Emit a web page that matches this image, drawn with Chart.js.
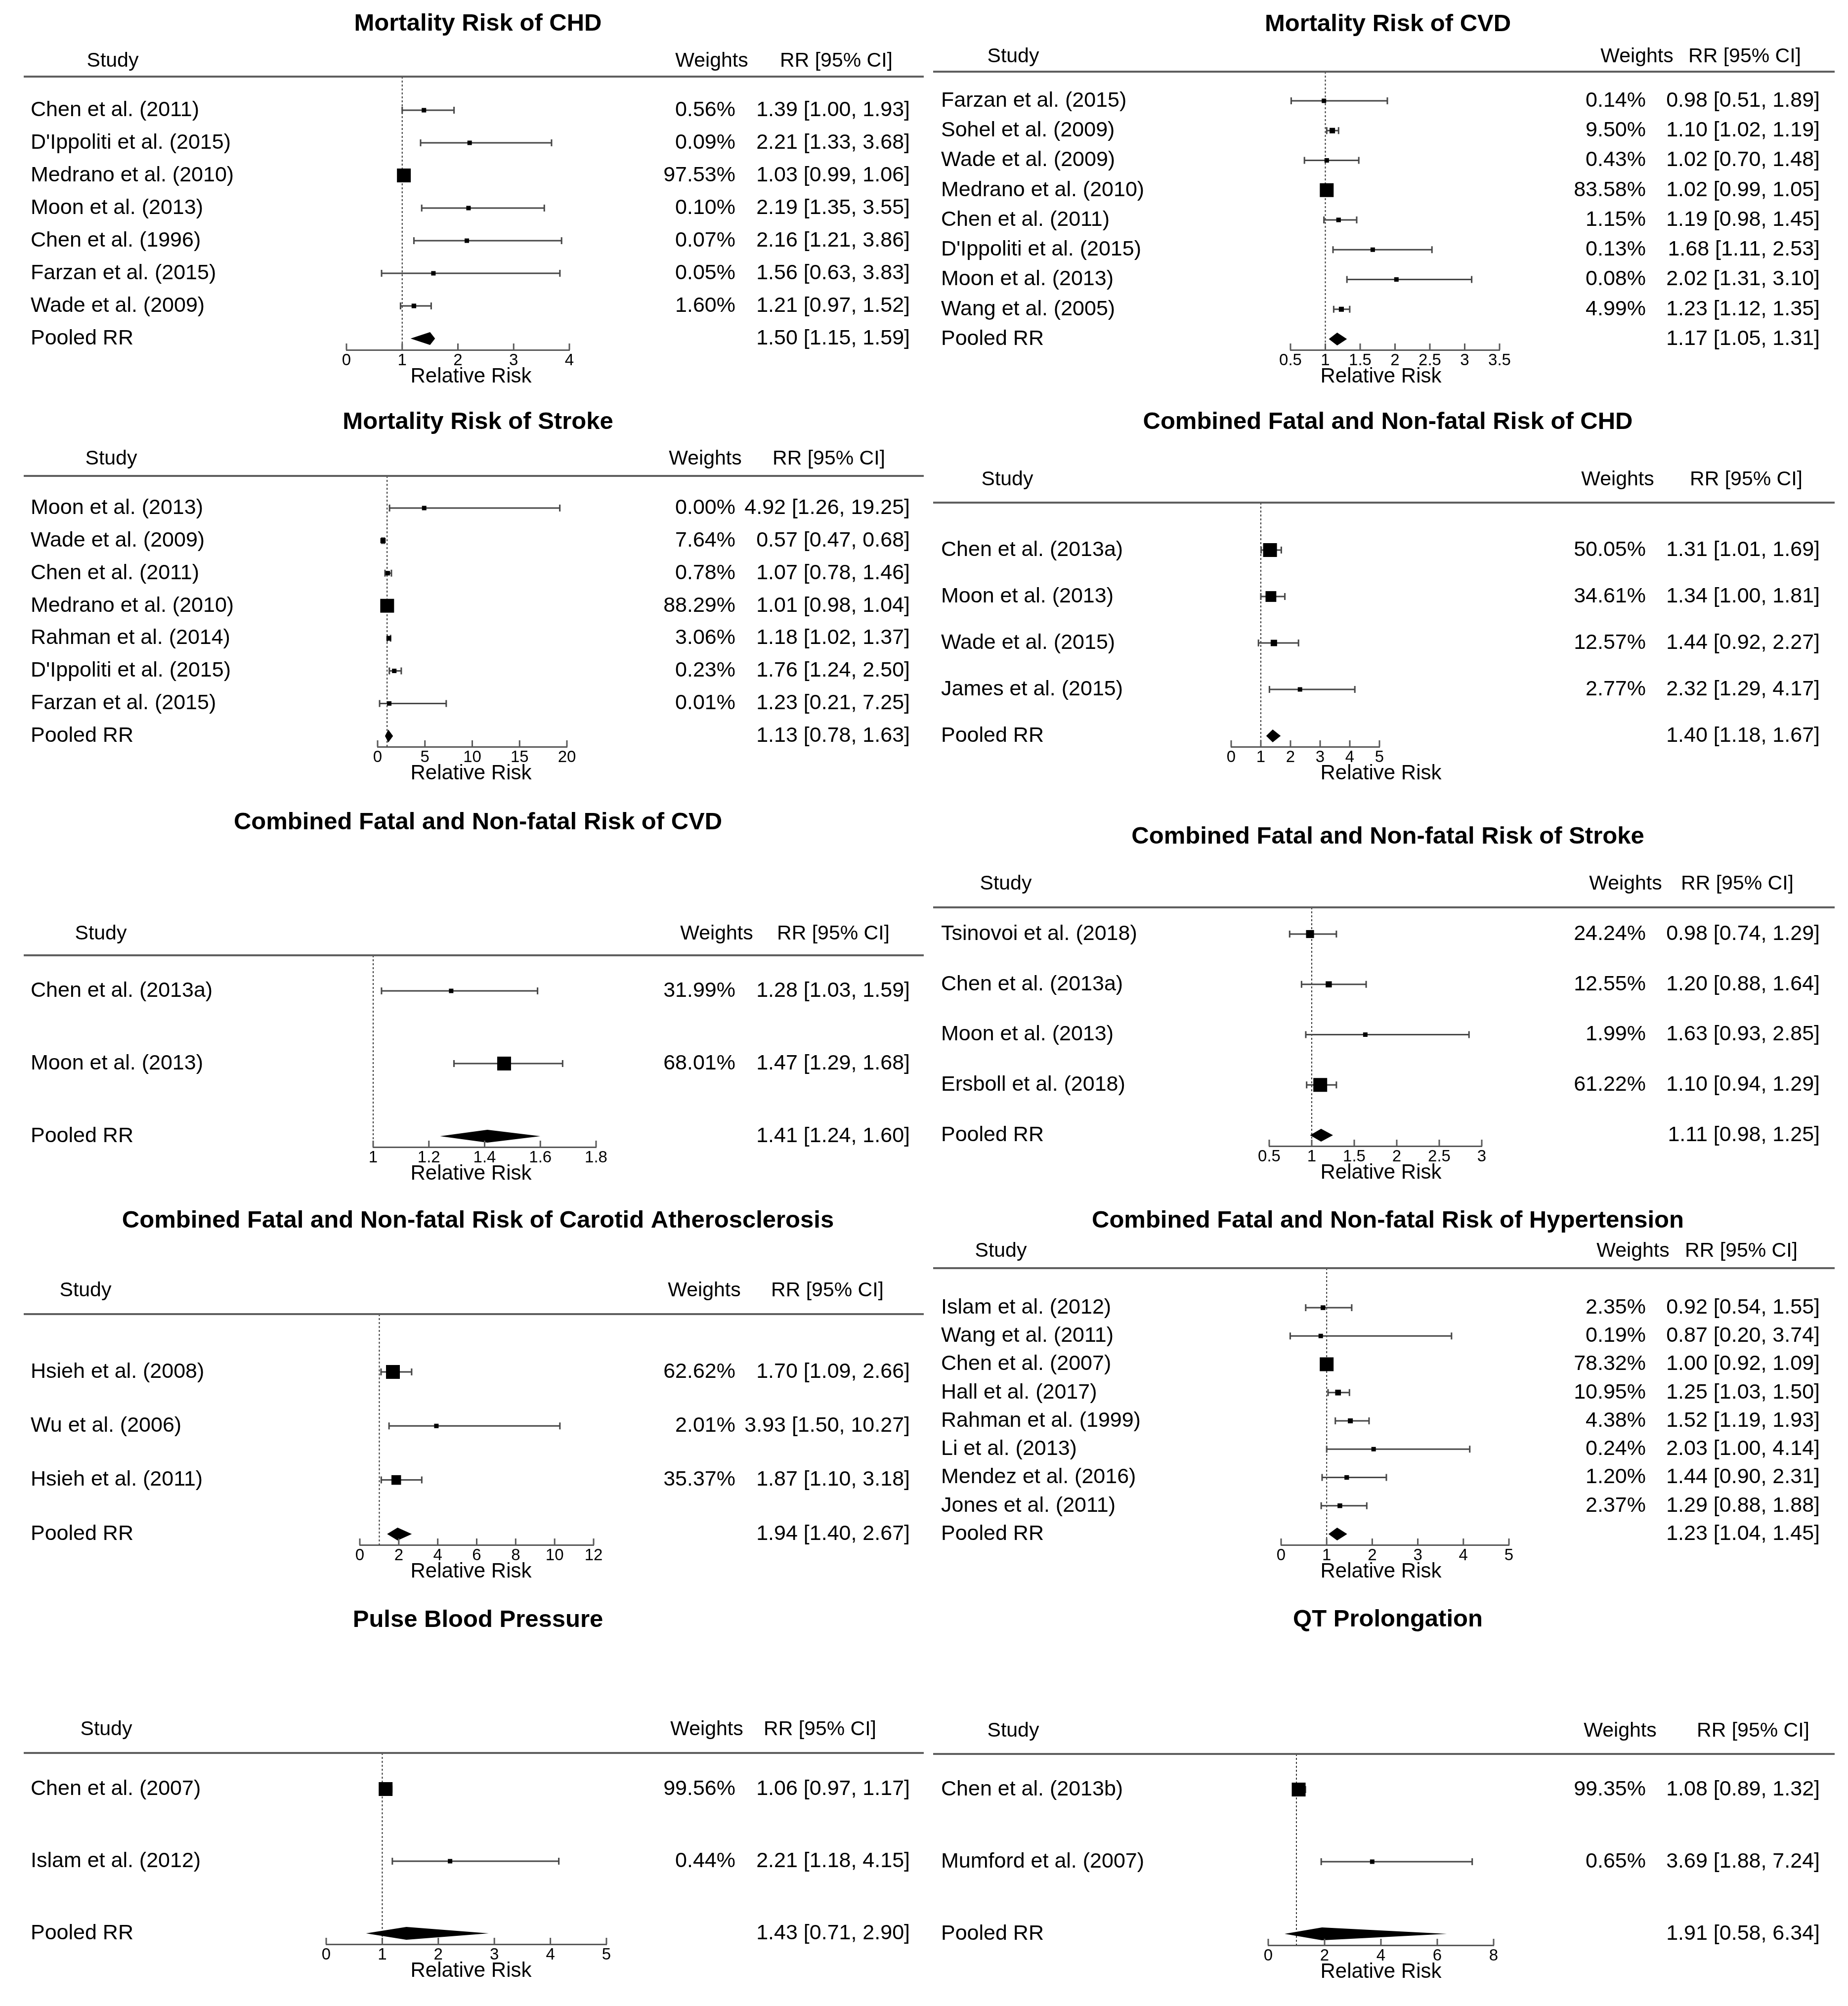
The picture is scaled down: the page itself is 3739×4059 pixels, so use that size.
<!DOCTYPE html>
<html>
<head>
<meta charset="utf-8">
<script src="https://cdn.jsdelivr.net/npm/chart.js@4.4.1/dist/chart.umd.min.js"></script>
<style>
html, body { margin: 0; padding: 0; background: #fff; }
body { width: 3739px; height: 4059px; position: relative; overflow: hidden; }
.panel { position: absolute; }
</style>
</head>
<body>
<script>
// Mortality Risk of CHD
const chdDeathStudies = ['Chen et al. (2011)', "D'Ippoliti et al. (2015)", 'Medrano et al. (2010)', 'Moon et al. (2013)', 'Chen et al. (1996)', 'Farzan et al. (2015)', 'Wade et al. (2009)'];
const chdDeathWeights = [0.56, 0.09, 97.53, 0.10, 0.07, 0.05, 1.60];
const chdDeathRR = [1.39, 2.21, 1.03, 2.19, 2.16, 1.56, 1.21];
const chdDeathLow = [1.00, 1.33, 0.99, 1.35, 1.21, 0.63, 0.97];
const chdDeathHigh = [1.93, 3.68, 1.06, 3.55, 3.86, 3.83, 1.52];
const chdDeathPooled = [1.50, 1.15, 1.59];
const chdDeathTicks = [0, 1, 2, 3, 4];

// Mortality Risk of CVD
const cvdDeathStudies = ['Farzan et al. (2015)', 'Sohel et al. (2009)', 'Wade et al. (2009)', 'Medrano et al. (2010)', 'Chen et al. (2011)', "D'Ippoliti et al. (2015)", 'Moon et al. (2013)', 'Wang et al. (2005)'];
const cvdDeathWeights = [0.14, 9.50, 0.43, 83.58, 1.15, 0.13, 0.08, 4.99];
const cvdDeathRR = [0.98, 1.10, 1.02, 1.02, 1.19, 1.68, 2.02, 1.23];
const cvdDeathLow = [0.51, 1.02, 0.70, 0.99, 0.98, 1.11, 1.31, 1.12];
const cvdDeathHigh = [1.89, 1.19, 1.48, 1.05, 1.45, 2.53, 3.10, 1.35];
const cvdDeathPooled = [1.17, 1.05, 1.31];
const cvdDeathTicks = [0.5, 1, 1.5, 2, 2.5, 3, 3.5];

// Mortality Risk of Stroke
const strokeDeathStudies = ['Moon et al. (2013)', 'Wade et al. (2009)', 'Chen et al. (2011)', 'Medrano et al. (2010)', 'Rahman et al. (2014)', "D'Ippoliti et al. (2015)", 'Farzan et al. (2015)'];
const strokeDeathWeights = [0.00, 7.64, 0.78, 88.29, 3.06, 0.23, 0.01];
const strokeDeathRR = [4.92, 0.57, 1.07, 1.01, 1.18, 1.76, 1.23];
const strokeDeathLow = [1.26, 0.47, 0.78, 0.98, 1.02, 1.24, 0.21];
const strokeDeathHigh = [19.25, 0.68, 1.46, 1.04, 1.37, 2.50, 7.25];
const strokeDeathPooled = [1.13, 0.78, 1.63];
const strokeDeathTicks = [0, 5, 10, 15, 20];

// Combined Fatal and Non-fatal Risk of CHD
const chdAllStudies = ['Chen et al. (2013a)', 'Moon et al. (2013)', 'Wade et al. (2015)', 'James et al. (2015)'];
const chdAllWeights = [50.05, 34.61, 12.57, 2.77];
const chdAllRR = [1.31, 1.34, 1.44, 2.32];
const chdAllLow = [1.01, 1.00, 0.92, 1.29];
const chdAllHigh = [1.69, 1.81, 2.27, 4.17];
const chdAllPooled = [1.40, 1.18, 1.67];
const chdAllTicks = [0, 1, 2, 3, 4, 5];

// Combined Fatal and Non-fatal Risk of CVD
const cvdAllStudies = ['Chen et al. (2013a)', 'Moon et al. (2013)'];
const cvdAllWeights = [31.99, 68.01];
const cvdAllRR = [1.28, 1.47];
const cvdAllLow = [1.03, 1.29];
const cvdAllHigh = [1.59, 1.68];
const cvdAllPooled = [1.41, 1.24, 1.60];
const cvdAllTicks = [1, 1.2, 1.4, 1.6, 1.8];

// Combined Fatal and Non-fatal Risk of Stroke
const strokeAllStudies = ['Tsinovoi et al. (2018)', 'Chen et al. (2013a)', 'Moon et al. (2013)', 'Ersboll et al. (2018)'];
const strokeAllWeights = [24.24, 12.55, 1.99, 61.22];
const strokeAllRR = [0.98, 1.20, 1.63, 1.10];
const strokeAllLow = [0.74, 0.88, 0.93, 0.94];
const strokeAllHigh = [1.29, 1.64, 2.85, 1.29];
const strokeAllPooled = [1.11, 0.98, 1.25];
const strokeAllTicks = [0.5, 1, 1.5, 2, 2.5, 3];

// Combined Fatal and Non-fatal Risk of Carotid Atherosclerosis
const carotidStudies = ['Hsieh et al. (2008)', 'Wu et al. (2006)', 'Hsieh et al. (2011)'];
const carotidWeights = [62.62, 2.01, 35.37];
const carotidRR = [1.70, 3.93, 1.87];
const carotidLow = [1.09, 1.50, 1.10];
const carotidHigh = [2.66, 10.27, 3.18];
const carotidPooled = [1.94, 1.40, 2.67];
const carotidTicks = [0, 2, 4, 6, 8, 10, 12];

// Combined Fatal and Non-fatal Risk of Hypertension
const htnStudies = ['Islam et al. (2012)', 'Wang et al. (2011)', 'Chen et al. (2007)', 'Hall et al. (2017)', 'Rahman et al. (1999)', 'Li et al. (2013)', 'Mendez et al. (2016)', 'Jones et al. (2011)'];
const htnWeights = [2.35, 0.19, 78.32, 10.95, 4.38, 0.24, 1.20, 2.37];
const htnRR = [0.92, 0.87, 1.00, 1.25, 1.52, 2.03, 1.44, 1.29];
const htnLow = [0.54, 0.20, 0.92, 1.03, 1.19, 1.00, 0.90, 0.88];
const htnHigh = [1.55, 3.74, 1.09, 1.50, 1.93, 4.14, 2.31, 1.88];
const htnPooled = [1.23, 1.04, 1.45];
const htnTicks = [0, 1, 2, 3, 4, 5];

// Pulse Blood Pressure
const pulseStudies = ['Chen et al. (2007)', 'Islam et al. (2012)'];
const pulseWeights = [99.56, 0.44];
const pulseRR = [1.06, 2.21];
const pulseLow = [0.97, 1.18];
const pulseHigh = [1.17, 4.15];
const pulsePooled = [1.43, 0.71, 2.90];
const pulseTicks = [0, 1, 2, 3, 4, 5];

// QT Prolongation
const qtStudies = ['Chen et al. (2013b)', 'Mumford et al. (2007)'];
const qtWeights = [99.35, 0.65];
const qtRR = [1.08, 3.69];
const qtLow = [0.89, 1.88];
const qtHigh = [1.32, 7.24];
const qtPooled = [1.91, 0.58, 6.34];
const qtTicks = [0, 2, 4, 6, 8];

Chart.defaults.font.family = '"Liberation Sans", Arial, sans-serif';
Chart.defaults.color = '#000';

const FONT = '"Liberation Sans", Arial, sans-serif';
const AXIS_GREY = '#595959';
const LINE_GREY = '#474747';
const RULE_GREY = '#5f5f5f';
const X_SCALE_H = 60;

// column geometry (panel-local pixels)
const LEFT_COL = { names: 62, weightsRight: 1488, rrRight: 1841, rule: [48, 1869], xLabel: 953 };
const RIGHT_COL = { names: 34, weightsRight: 1460, rrRight: 1812, rule: [18, 1842], xLabel: 924 };

const panels = [
  { title: 'Mortality Risk of CHD', studies: chdDeathStudies, weights: chdDeathWeights, rr: chdDeathRR, low: chdDeathLow, high: chdDeathHigh, pooled: chdDeathPooled, ticks: chdDeathTicks,
    col: LEFT_COL, box: [0, 0, 1872, 800], titleY: 48, headerY: 124, ruleY: 155, rowTop: 223, rowStep: 66, axisY: 708, axisX: [701, 1152], heads: [228, 1440, 1692] },
  { title: 'Mortality Risk of CVD', studies: cvdDeathStudies, weights: cvdDeathWeights, rr: cvdDeathRR, low: cvdDeathLow, high: cvdDeathHigh, pooled: cvdDeathPooled, ticks: cvdDeathTicks,
    col: RIGHT_COL, box: [1870, 0, 1842, 800], titleY: 49, headerY: 115, ruleY: 145, rowTop: 204, rowStep: 60.25, axisY: 708, axisX: [741, 1164], heads: [180, 1442, 1660] },
  { title: 'Mortality Risk of Stroke', studies: strokeDeathStudies, weights: strokeDeathWeights, rr: strokeDeathRR, low: strokeDeathLow, high: strokeDeathHigh, pooled: strokeDeathPooled, ticks: strokeDeathTicks,
    col: LEFT_COL, box: [0, 800, 1872, 810], titleY: 54, headerY: 129, ruleY: 163, rowTop: 228, rowStep: 65.9, axisY: 711, axisX: [764, 1147], heads: [225, 1427, 1677] },
  { title: 'Combined Fatal and Non-fatal Risk of CHD', studies: chdAllStudies, weights: chdAllWeights, rr: chdAllRR, low: chdAllLow, high: chdAllHigh, pooled: chdAllPooled, ticks: chdAllTicks,
    col: RIGHT_COL, box: [1870, 800, 1842, 810], titleY: 54, headerY: 171, ruleY: 217, rowTop: 313, rowStep: 94, axisY: 711, axisX: [621, 921], heads: [168, 1403, 1663] },
  { title: 'Combined Fatal and Non-fatal Risk of CVD', studies: cvdAllStudies, weights: cvdAllWeights, rr: cvdAllRR, low: cvdAllLow, high: cvdAllHigh, pooled: cvdAllPooled, ticks: cvdAllTicks,
    col: LEFT_COL, box: [0, 1610, 1872, 810], titleY: 54, headerY: 280, ruleY: 323, rowTop: 395, rowStep: 147, axisY: 711, axisX: [755, 1206], heads: [204, 1450, 1686] },
  { title: 'Combined Fatal and Non-fatal Risk of Stroke', studies: strokeAllStudies, weights: strokeAllWeights, rr: strokeAllRR, low: strokeAllLow, high: strokeAllHigh, pooled: strokeAllPooled, ticks: strokeAllTicks,
    col: RIGHT_COL, box: [1870, 1610, 1842, 810], titleY: 83, headerY: 179, ruleY: 226, rowTop: 280, rowStep: 101.75, axisY: 709, axisX: [698, 1128], heads: [165, 1419, 1645] },
  { title: 'Combined Fatal and Non-fatal Risk of Carotid Atherosclerosis', studies: carotidStudies, weights: carotidWeights, rr: carotidRR, low: carotidLow, high: carotidHigh, pooled: carotidPooled, ticks: carotidTicks,
    col: LEFT_COL, box: [0, 2420, 1872, 805], titleY: 50, headerY: 192, ruleY: 239, rowTop: 356, rowStep: 109.3, axisY: 706, axisX: [728, 1201], heads: [173, 1425, 1674] },
  { title: 'Combined Fatal and Non-fatal Risk of Hypertension', studies: htnStudies, weights: htnWeights, rr: htnRR, low: htnLow, high: htnHigh, pooled: htnPooled, ticks: htnTicks,
    col: RIGHT_COL, box: [1870, 2420, 1842, 805], titleY: 50, headerY: 112, ruleY: 146, rowTop: 226, rowStep: 57.25, axisY: 706, axisX: [722, 1183], heads: [155, 1434, 1653] },
  { title: 'Pulse Blood Pressure', studies: pulseStudies, weights: pulseWeights, rr: pulseRR, low: pulseLow, high: pulseHigh, pooled: pulsePooled, ticks: pulseTicks,
    col: LEFT_COL, box: [0, 3225, 1872, 834], titleY: 53, headerY: 275, ruleY: 322, rowTop: 395, rowStep: 146, axisY: 709, axisX: [660, 1227], heads: [215, 1430, 1659] },
  { title: 'QT Prolongation', studies: qtStudies, weights: qtWeights, rr: qtRR, low: qtLow, high: qtHigh, pooled: qtPooled, ticks: qtTicks,
    col: RIGHT_COL, box: [1870, 3225, 1842, 834], titleY: 52, headerY: 278, ruleY: 324, rowTop: 396, rowStep: 146, axisY: 711, axisX: [696, 1152], heads: [180, 1408, 1677] }
];

function fmtCI(est, lo, hi) {
  return `${est.toFixed(2)} [${lo.toFixed(2)}, ${hi.toFixed(2)}]`;
}

// square side grows with the study weight
function boxSide(w, all) {
  const lo = Math.min(...all), hi = Math.max(...all);
  return 9 + 19 * (w - lo) / (hi - lo);
}

function buildPanel(p) {
  const [bx, by, bw, bh] = p.box;
  const col = p.col;

  const wrap = document.createElement('div');
  wrap.className = 'panel';
  wrap.style.left = bx + 'px';
  wrap.style.top = by + 'px';
  wrap.style.width = bw + 'px';
  wrap.style.height = bh + 'px';
  const canvas = document.createElement('canvas');
  canvas.width = bw;
  canvas.height = bh;
  wrap.appendChild(canvas);
  document.body.appendChild(wrap);

  const n = p.studies.length;
  const yMin = -(p.rowTop - p.ruleY) / p.rowStep;
  const yMax = yMin + (p.axisY - p.ruleY) / p.rowStep;

  const nameLabels = [...p.studies, 'Pooled RR'];
  const weightLabels = [...p.weights.map(w => w.toFixed(2) + '%'), ''];
  const rrLabels = [...p.rr.map((v, i) => fmtCI(v, p.low[i], p.high[i])), fmtCI(...p.pooled)];

  const rowAxis = (labels, position, width, weight) => ({
    type: 'linear',
    position: position,
    weight: weight,
    min: yMin,
    max: yMax,
    reverse: true,
    grid: { display: false, drawTicks: false },
    border: { display: false },
    ticks: {
      autoSkip: false,
      crossAlign: 'far',
      padding: 0,
      color: '#000',
      font: { size: 43 },
      callback: (value, index) => labels[index]
    },
    afterBuildTicks: scale => { scale.ticks = nameLabels.map((_, i) => ({ value: i })); },
    afterFit: scale => { scale.width = width; }
  });

  const forest = {
    id: 'forest',
    beforeDatasetsDraw(chart) {
      const ctx = chart.ctx;
      const xs = chart.scales.x, ys = chart.scales.y;
      const area = chart.chartArea;
      ctx.save();

      // reference line at RR = 1
      const x1 = xs.getPixelForValue(1);
      ctx.strokeStyle = '#333';
      ctx.lineWidth = 2;
      ctx.setLineDash([4, 4]);
      ctx.beginPath();
      ctx.moveTo(x1, area.top);
      ctx.lineTo(x1, area.bottom);
      ctx.stroke();
      ctx.setLineDash([]);

      // confidence intervals
      ctx.strokeStyle = LINE_GREY;
      ctx.lineWidth = 3;
      p.low.forEach((lo, i) => {
        const y = ys.getPixelForValue(i);
        const a = xs.getPixelForValue(lo), b = xs.getPixelForValue(p.high[i]);
        ctx.beginPath();
        ctx.moveTo(a, y); ctx.lineTo(b, y);
        ctx.moveTo(a, y - 7); ctx.lineTo(a, y + 7);
        ctx.moveTo(b, y - 7); ctx.lineTo(b, y + 7);
        ctx.stroke();
      });

      // pooled diamond
      const yp = ys.getPixelForValue(n);
      const [est, lo, hi] = p.pooled;
      ctx.fillStyle = '#000';
      ctx.beginPath();
      ctx.moveTo(xs.getPixelForValue(lo), yp);
      ctx.lineTo(xs.getPixelForValue(est), yp - 13);
      ctx.lineTo(xs.getPixelForValue(hi), yp);
      ctx.lineTo(xs.getPixelForValue(est), yp + 13);
      ctx.closePath();
      ctx.fill();
      ctx.restore();
    },
    afterDraw(chart) {
      const ctx = chart.ctx;
      const xs = chart.scales.x;
      const area = chart.chartArea;
      ctx.save();

      // upward tick marks on the RR axis
      ctx.strokeStyle = AXIS_GREY;
      ctx.lineWidth = 3;
      xs.ticks.forEach(t => {
        const x = xs.getPixelForValue(t.value);
        ctx.beginPath();
        ctx.moveTo(x, area.bottom);
        ctx.lineTo(x, area.bottom - 13);
        ctx.stroke();
      });

      // header rule
      ctx.strokeStyle = RULE_GREY;
      ctx.lineWidth = 4;
      ctx.beginPath();
      ctx.moveTo(col.rule[0], p.ruleY);
      ctx.lineTo(col.rule[1], p.ruleY);
      ctx.stroke();

      // column headers
      ctx.fillStyle = '#000';
      ctx.font = '41px ' + FONT;
      ctx.textAlign = 'center';
      ctx.textBaseline = 'middle';
      ctx.fillText('Study', p.heads[0], p.headerY);
      ctx.fillText('Weights', p.heads[1], p.headerY);
      ctx.fillText('RR [95% CI]', p.heads[2], p.headerY);

      // axis title
      ctx.font = '42px ' + FONT;
      ctx.fillText('Relative Risk', col.xLabel, p.axisY + 54);
      ctx.restore();
    }
  };

  new Chart(canvas, {
    type: 'scatter',
    data: {
      datasets: [{
        data: p.rr.map((v, i) => ({ x: v, y: i })),
        pointStyle: 'rect',
        pointRadius: c => boxSide(p.weights[c.dataIndex], p.weights) / Math.SQRT2,
        backgroundColor: '#000',
        borderColor: '#000',
        borderWidth: 0,
        xAxisID: 'x',
        yAxisID: 'y'
      }]
    },
    options: {
      responsive: false,
      animation: false,
      devicePixelRatio: 1,
      events: [],
      layout: {
        autoPadding: false,
        padding: { left: col.names, right: 0, top: 0, bottom: bh - p.axisY - X_SCALE_H }
      },
      scales: {
        x: {
          type: 'linear',
          position: 'bottom',
          min: p.ticks[0],
          max: p.ticks[p.ticks.length - 1],
          afterBuildTicks: scale => { scale.ticks = p.ticks.map(v => ({ value: v })); },
          grid: { display: false, drawTicks: false },
          border: { display: true, color: AXIS_GREY, width: 3 },
          ticks: { padding: 2, color: '#000', font: { size: 33 }, autoSkip: false, maxRotation: 0, callback: v => String(v) },
          afterFit: scale => { scale.height = X_SCALE_H; }
        },
        y: rowAxis(nameLabels, 'left', p.axisX[0] - col.names, 0),
        yW: rowAxis(weightLabels, 'right', col.weightsRight - p.axisX[1], 0),
        yR: rowAxis(rrLabels, 'right', col.rrRight - col.weightsRight, 1),
        pad: {
          type: 'linear', position: 'right', weight: 2, min: 0, max: 1,
          grid: { display: false, drawTicks: false }, border: { display: false },
          ticks: { display: false },
          afterFit: scale => { scale.width = bw - col.rrRight; }
        }
      },
      plugins: {
        legend: { display: false },
        tooltip: { enabled: false },
        title: {
          display: true,
          text: p.title,
          color: '#000',
          font: { size: 49, weight: 'bold' },
          padding: { top: p.titleY - 29.4, bottom: p.ruleY - p.titleY - 29.4 }
        }
      }
    },
    plugins: [forest]
  });
}

panels.forEach(buildPanel);
</script>
</body>
</html>
